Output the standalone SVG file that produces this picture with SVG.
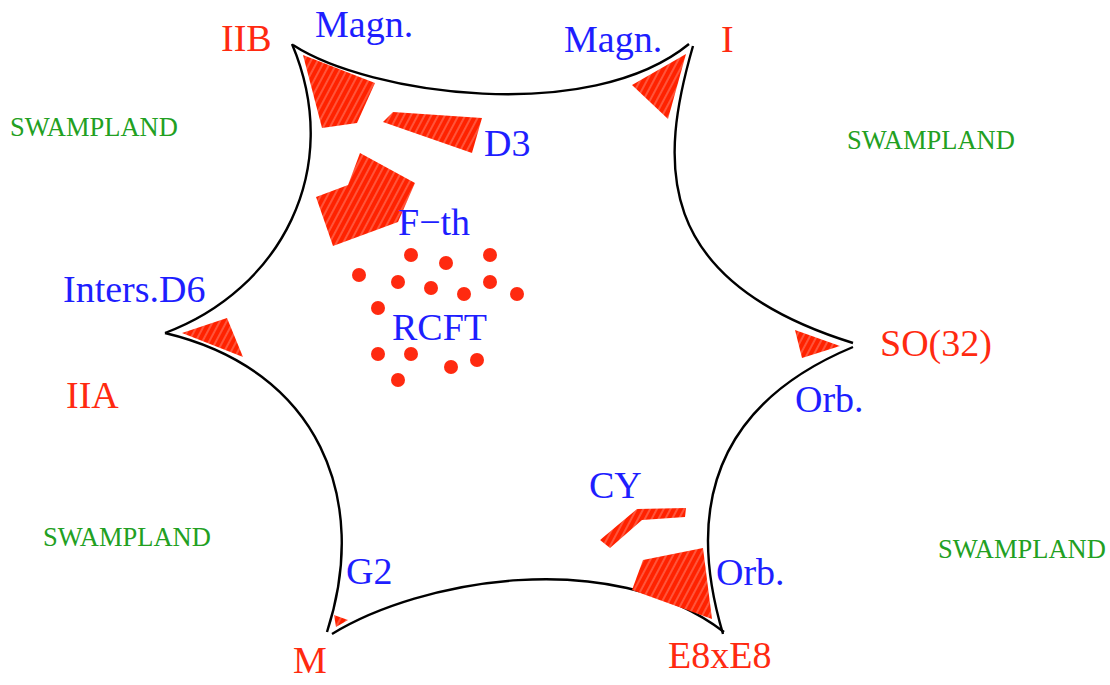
<svg xmlns="http://www.w3.org/2000/svg" width="1110" height="685" viewBox="0 0 1110 685">
<defs>
<pattern id="hatch" width="6" height="12" patternUnits="userSpaceOnUse" patternTransform="rotate(28)">
<rect width="6" height="12" fill="#ff2200"/>
<line x1="3" y1="0" x2="3" y2="12" stroke="#ffffff" stroke-opacity="0.5" stroke-width="0.9"/>
</pattern>
</defs>
<style>
.edge{fill:none;stroke:#000;stroke-width:2.4;stroke-linecap:butt}
.region{fill:url(#hatch);stroke:none}
.dot{fill:#ff2a10}
.red{fill:#ff2a10;font-family:"Liberation Serif",serif;font-size:38px}
.blue{fill:#1e1eff;font-family:"Liberation Serif",serif;font-size:38px}
.green{fill:#22a022;font-family:"Liberation Serif",serif;font-size:26.5px}
</style>
<rect width="1110" height="685" fill="#fff"/>
<g id="connectors">
<path class="edge" d="M293,45 C370,95 590,125 689,44"/>
<path class="edge" d="M693,46 C660,160 650,280 853,343"/>
<path class="edge" d="M853,347 C690,415 695,540 723,634"/>
<path class="edge" d="M332,634 C420,580 610,545 724,632"/>
<path class="edge" d="M165,333 C320,370 370,500 327,632"/>
<path class="edge" d="M165,333 C280,290 345,170 292,44"/>
</g>
<g id="regions">
<polygon id="r-IIB" class="region" points="303,55 375,83 357,123 322,128"/>
<polygon id="r-D3" class="region" points="383,122 393,112 482,118 472,153"/>
<polygon id="r-Fth" class="region" points="360,153 415,183 398,222 333,246 316,197 348,185"/>
<polygon id="r-I" class="region" points="686,54 632,85 668,119"/>
<polygon id="r-IIA" class="region" points="182,333 227,318 243,357"/>
<polygon id="r-SO32" class="region" points="795,330 840,346 802,358"/>
<polygon id="r-CY" class="region" points="600,540 637,509 686,508 685,517 642,520 610,548"/>
<polygon id="r-E8" class="region" points="643,560 703,548 712,619 632,590"/>
<polygon id="r-M" class="region" points="334,615 348,620 336,627"/>
</g>
<g id="rcft-dots">
<circle class="dot" cx="359" cy="275" r="7"/>
<circle class="dot" cx="378" cy="308" r="7"/>
<circle class="dot" cx="398" cy="282" r="7"/>
<circle class="dot" cx="411" cy="255" r="7"/>
<circle class="dot" cx="431" cy="288" r="7"/>
<circle class="dot" cx="446" cy="263" r="7"/>
<circle class="dot" cx="464" cy="294" r="7"/>
<circle class="dot" cx="490" cy="255" r="7"/>
<circle class="dot" cx="490" cy="282" r="7"/>
<circle class="dot" cx="517" cy="294" r="7"/>
<circle class="dot" cx="378" cy="354" r="7"/>
<circle class="dot" cx="411" cy="354" r="7"/>
<circle class="dot" cx="451" cy="367" r="7"/>
<circle class="dot" cx="477" cy="360" r="7"/>
<circle class="dot" cx="398" cy="380" r="7"/>
</g>
<g id="labels">
<text class="red" x="221" y="51">IIB</text>
<text class="blue" x="315" y="37">Magn.</text>
<text class="blue" x="564" y="52">Magn.</text>
<text class="red" x="721" y="52">I</text>
<text class="blue" x="484" y="156">D3</text>
<text class="blue" x="398" y="235">F−th</text>
<text class="blue" x="63" y="302">Inters.D6</text>
<text class="blue" x="392" y="340">RCFT</text>
<text class="red" x="880" y="356">SO(32)</text>
<text class="red" x="66" y="408">IIA</text>
<text class="blue" x="795" y="412">Orb.</text>
<text class="blue" x="589" y="498">CY</text>
<text class="blue" x="346" y="584">G2</text>
<text class="blue" x="716" y="585">Orb.</text>
<text class="red" x="293" y="673">M</text>
<text class="red" x="668" y="668">E8xE8</text>
<text class="green" x="10" y="136">SWAMPLAND</text>
<text class="green" x="847" y="149">SWAMPLAND</text>
<text class="green" x="43" y="546">SWAMPLAND</text>
<text class="green" x="938" y="558">SWAMPLAND</text>
</g>
</svg>
